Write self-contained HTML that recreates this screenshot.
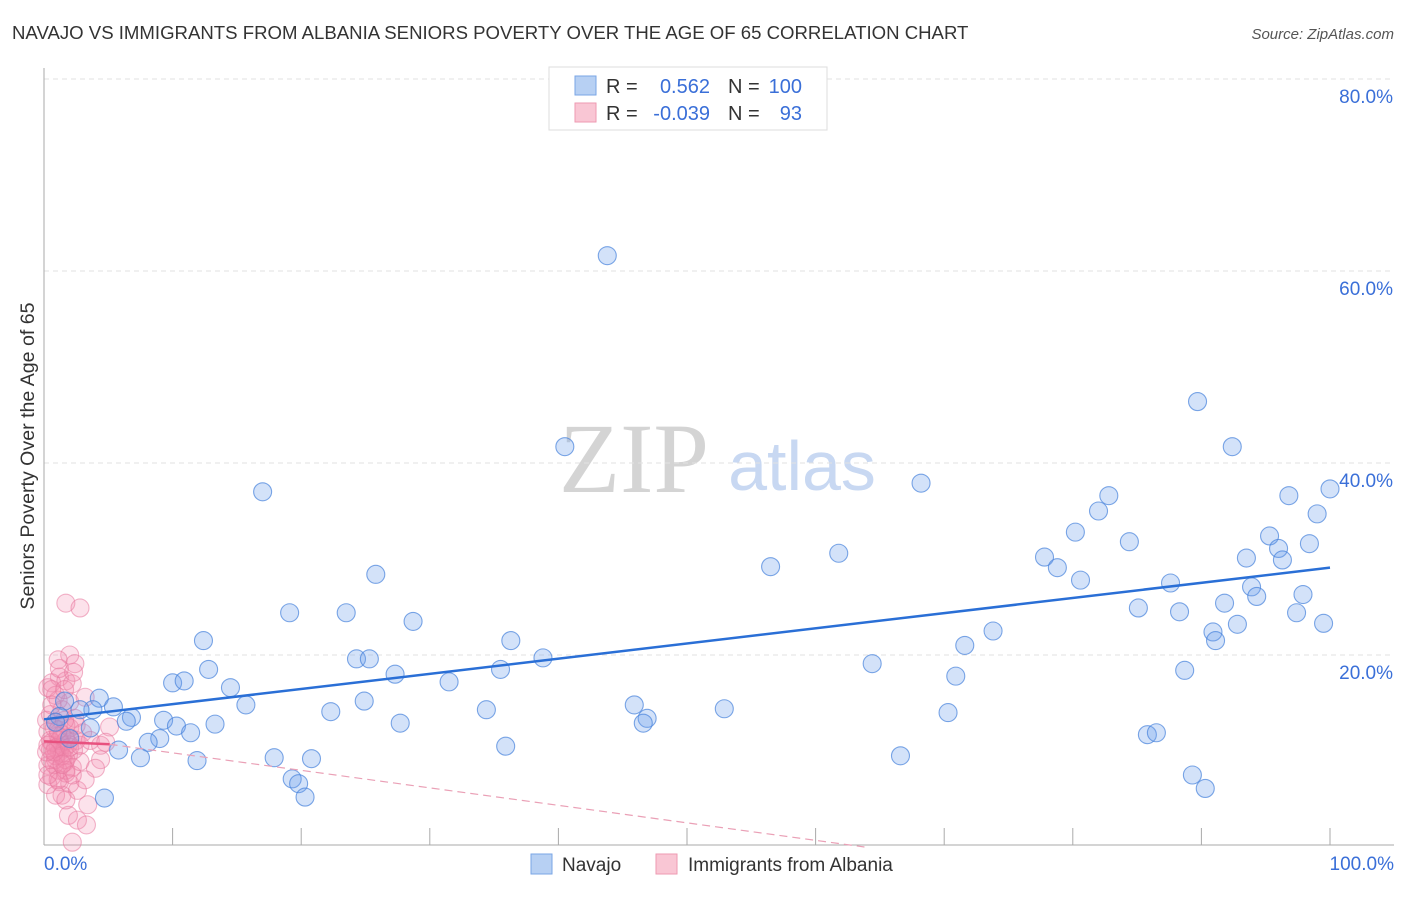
<!DOCTYPE html>
<html><head><meta charset="utf-8"><style>
body{margin:0;background:#fff;font-family:"Liberation Sans",sans-serif}
</style></head><body>
<svg id="chart" width="1406" height="892" viewBox="0 0 1406 892" font-family="Liberation Sans, sans-serif">
<text x="12" y="39" font-size="18.6" fill="#333">NAVAJO VS IMMIGRANTS FROM ALBANIA SENIORS POVERTY OVER THE AGE OF 65 CORRELATION CHART</text>
<text x="1394" y="39" font-size="15" fill="#555" text-anchor="end" font-style="italic">Source: ZipAtlas.com</text>
<text transform="translate(34,456) rotate(-90)" font-size="19.6" fill="#333" text-anchor="middle">Seniors Poverty Over the Age of 65</text>
<g>
<text x="634" y="492" font-size="100" fill="#d4d4d4" style="font-family:'Liberation Serif',serif" text-anchor="middle">ZIP</text>
<text x="802" y="490" font-size="70" fill="#c8d8f2" text-anchor="middle">atlas</text>
</g>
<g id="grid"></g>
<g id="axes"></g>
<g id="pinkpts"></g>
<g id="bluepts"></g>
<g id="trends"></g>
<g>
<rect x="549" y="67" width="278" height="63" fill="#fff" stroke="#ddd"/>
<rect x="575" y="76" width="21" height="19" fill="#b7d0f3" stroke="#7aa6e6"/>
<rect x="575" y="103" width="21" height="19" fill="#f9c6d4" stroke="#ee9ab2"/>
<text x="606" y="93" font-size="20" fill="#333">R =</text>
<text x="710" y="93" font-size="20" fill="#3a6fd8" text-anchor="end">0.562</text>
<text x="728" y="93" font-size="20" fill="#333">N =</text>
<text x="802" y="93" font-size="20" fill="#3a6fd8" text-anchor="end">100</text>
<text x="606" y="120" font-size="20" fill="#333">R =</text>
<text x="710" y="120" font-size="20" fill="#3a6fd8" text-anchor="end">-0.039</text>
<text x="728" y="120" font-size="20" fill="#333">N =</text>
<text x="802" y="120" font-size="20" fill="#3a6fd8" text-anchor="end">93</text>
</g>
<g>
<rect x="531" y="854" width="21" height="20" fill="#b7d0f3" stroke="#7aa6e6"/>
<text x="562" y="871" font-size="19" fill="#333">Navajo</text>
<rect x="656" y="854" width="21" height="20" fill="#f9c6d4" stroke="#ee9ab2"/>
<text x="688" y="871" font-size="19" fill="#333">Immigrants from Albania</text>
</g>
</svg>
<script>
const yTicks=[20,40,60,80];
const yTickLabels=["20.0%","40.0%","60.0%","80.0%"];
const xTicks=[0,10,20,30,40,50,60,70,80,90,100];
const blueX=[43.8,89.7,92.4,40.5,17.0,68.2,100,82.8,96.8,99.0,82.0,80.2,95.3,96.0,84.4,98.4,93.5,61.8,77.8,96.3,56.5,78.8,80.6,25.8,87.6,93.9,94.3,97.9,85.1,88.3,91.8,19.1,23.5,28.7,97.4,92.8,99.5,73.8,90.9,91.1,12.4,36.3,71.6,24.3,25.3,38.8,12.8,35.5,64.4,27.3,88.7,70.9,10.0,10.9,31.5,14.5,4.3,1.6,15.7,5.4,24.9,45.9,22.3,34.4,52.9,70.3,6.8,3.8,6.4,9.3,46.9,46.6,27.7,10.3,13.3,11.4,9.0,8.1,5.8,35.9,85.8,86.5,7.5,11.9,17.9,20.8,66.6,19.3,19.8,89.3,20.3,4.7,90.3,1.2,2.8,2.0,3.6,0.9];
const blueY=[61.6,46.4,41.7,41.7,37.0,37.9,37.3,36.6,36.6,34.7,35.0,32.8,32.4,31.1,31.8,31.6,30.1,30.6,30.2,29.9,29.2,29.1,27.8,28.4,27.5,27.1,26.1,26.3,24.9,24.5,25.4,24.4,24.4,23.5,24.4,23.2,23.3,22.5,22.4,21.5,21.5,21.5,21.0,19.6,19.6,19.7,18.5,18.5,19.1,18.0,18.4,17.8,17.1,17.3,17.2,16.6,15.5,15.2,14.8,14.6,15.2,14.8,14.1,14.3,14.4,14.0,13.5,14.3,13.1,13.2,13.4,12.9,12.9,12.6,12.8,11.9,11.3,10.9,10.1,10.5,11.7,11.9,9.3,9.0,9.3,9.2,9.5,7.1,6.6,7.5,5.2,5.1,6.1,13.6,14.3,11.3,12.4,13.0];
const pinkX=[1.7,2.8,2.0,1.1,2.4,1.2,0.6,1.7,2.2,0.3,0.9,2.0,3.2,1.4,0.5,2.4,0.9,1.7,0.3,1.1,2.0,0.6,1.4,2.5,0.5,1.2,1.9,0.9,1.6,0.3,2.2,1.1,1.7,0.6,2.8,1.2,0.3,2.0,2.6,1.4,5.1,4.4,4.0,3.2,3.4,1.9,2.6,3.3,2.2,0.8,1.1,1.6,0.9,1.9,2.3,1.4,0.5,0.8,1.7,1.2,2.0,0.2,3.0,2.5,1.1,1.6,0.6,0.3,0.9,1.4,1.7,2.2,0.5,1.1,0.6,1.2,2.3,1.7,0.8,1.4,2.0,0.2,1.1,1.6,2.8,0.3,0.9,1.7,3.6,4.4,4.8];
const pinkY=[25.4,24.9,20.0,19.5,19.1,17.7,17.1,17.3,17.0,16.6,15.8,15.1,15.6,14.3,13.8,13.4,13.0,12.7,12.0,11.6,11.4,10.9,10.6,11.1,10.1,9.9,9.6,9.1,8.8,8.5,8.3,8.0,7.7,7.3,8.9,6.8,6.5,6.6,5.9,5.4,12.5,9.1,8.2,7.0,4.4,3.3,2.8,2.3,0.5,12.4,10.5,10.3,9.5,10.7,10.1,11.7,11.1,8.6,9.1,11.1,12.4,13.2,11.9,12.7,15.3,16.4,14.8,10.6,10.3,9.5,8.0,7.5,9.1,7.0,16.4,18.6,18.2,11.1,9.9,8.6,10.4,9.9,12.2,13.2,10.6,7.5,5.4,4.9,11.1,10.6,10.9];
const blueTrendX=[0,100], blueTrendY=[13.3,29.1];
const pinkTrendX=[0,5.1,63.8], pinkTrendY=[11.0,10.7,0];

const X0=44,X1=1330,Y0=847,YS=9.6;
const sx=v=>X0+(X1-X0)*v/100, sy=v=>Y0-v*YS;
const NS="http://www.w3.org/2000/svg";
function mk(tag,attrs,parent){const e=document.createElementNS(NS,tag);for(const k in attrs)e.setAttribute(k,attrs[k]);document.getElementById(parent).appendChild(e);return e;}

yTicks.forEach((t,i)=>{
 const l=mk('line',{x1:44,x2:1394,y1:sy(t),y2:sy(t),stroke:'#e2e2e2','stroke-dasharray':'5,4'},'grid');
 
 
 const tx=mk('text',{x:1393,y:sy(t)+24,'font-size':19,fill:'#3a6fd8','text-anchor':'end'},'grid');
 tx.textContent=yTickLabels[i];
 
 
});
let ax=mk('line',{x1:44,x2:44,y1:68,y2:845,stroke:'#aaa'},'axes');


ax=mk('line',{x1:44,x2:1394,y1:845,y2:845,stroke:'#aaa'},'axes');


xTicks.forEach(t=>{
 if(t===0)return;
 const l=mk('line',{x1:sx(t),x2:sx(t),y1:828,y2:845,stroke:'#aaa'},'axes');
 
 
});
let t0=mk('text',{x:44,y:870,'font-size':19,fill:'#3a6fd8'},'axes');t0.textContent='0.0%';


let t1=mk('text',{x:1394,y:870,'font-size':19,fill:'#3a6fd8','text-anchor':'end'},'axes');t1.textContent='100.0%';



pinkX.forEach((x,i)=>{
 const c=mk('circle',{cx:sx(x),cy:sy(pinkY[i]),r:9,fill:'rgba(244,140,175,0.25)',stroke:'rgba(232,120,158,0.55)','stroke-width':1.1},'pinkpts');
 
 
});
blueX.forEach((x,i)=>{
 const c=mk('circle',{cx:sx(x),cy:sy(blueY[i]),r:9,fill:'rgba(110,160,235,0.3)',stroke:'rgba(70,130,220,0.7)','stroke-width':1.1},'bluepts');
 
 
});
let tl=mk('line',{x1:sx(blueTrendX[0]),y1:sy(blueTrendY[0]),x2:sx(blueTrendX[1]),y2:sy(blueTrendY[1]),stroke:'#2a6fd6','stroke-width':2.5},'trends');


tl=mk('line',{x1:sx(pinkTrendX[0]),y1:sy(pinkTrendY[0]),x2:sx(pinkTrendX[1]),y2:sy(pinkTrendY[1]),stroke:'#e8517f','stroke-width':2.5},'trends');


tl=mk('line',{x1:sx(pinkTrendX[1]),y1:sy(pinkTrendY[1]),x2:sx(pinkTrendX[2]),y2:sy(pinkTrendY[2]),stroke:'#eaa0b6','stroke-width':1.2,'stroke-dasharray':'8,5'},'trends');


</script>
</body></html>
